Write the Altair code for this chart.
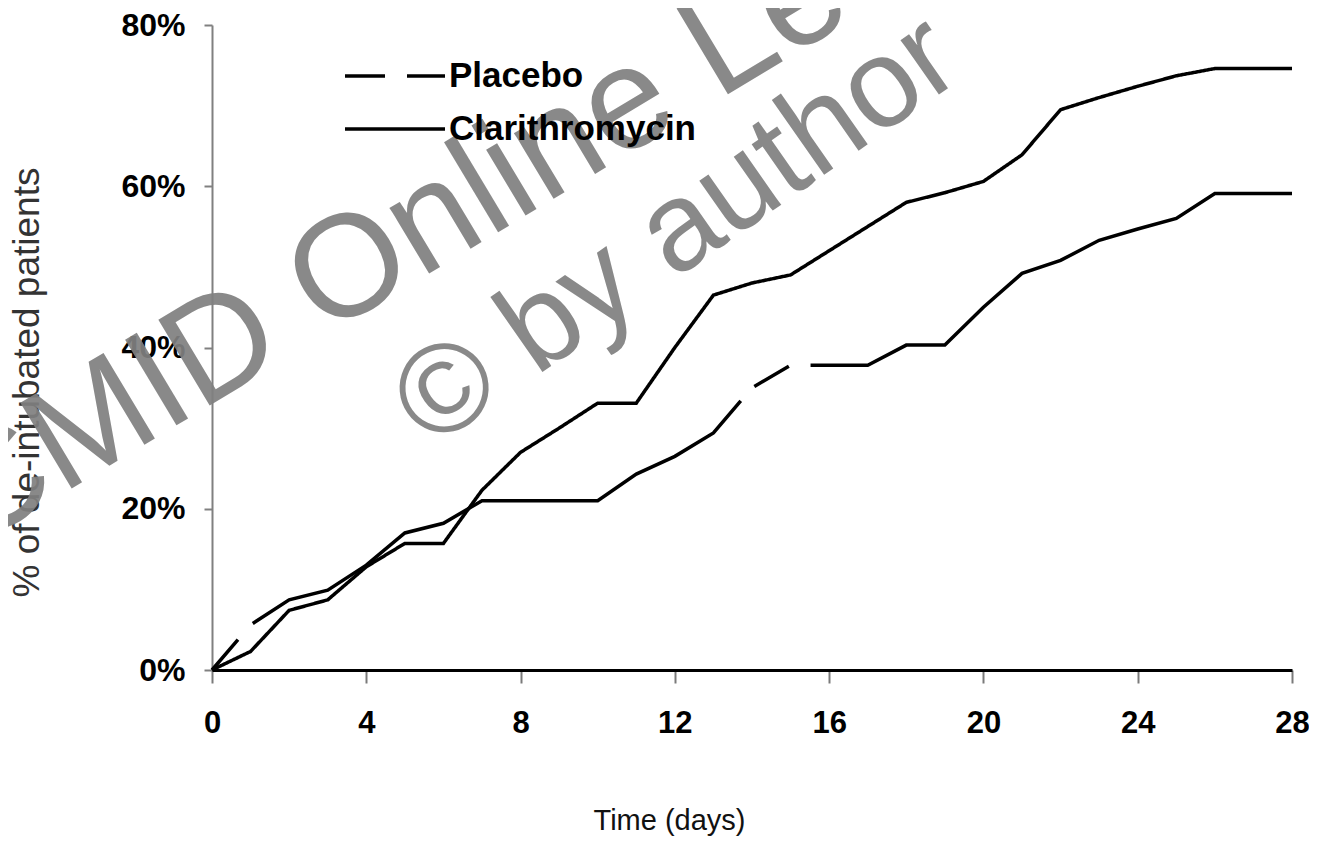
import altair as alt
import pandas as pd

# ---- data ----
series_names = ["Placebo", "Clarithromycin"]

placebo_days = [0, 1, 2, 3, 4, 5, 6, 7, 10, 11, 12, 13, 14, 15, 17, 18, 19, 20, 21, 22, 23, 24, 25, 26, 28]
placebo_pct = [0, 5.6, 8.7, 9.9, 13.0, 17.0, 18.2, 21.0, 21.0, 24.3, 26.5, 29.4, 35.0, 37.8, 37.8, 40.3, 40.3,
               45.0, 49.2, 50.8, 53.3, 54.7, 56.0, 59.1, 59.1]

clari_days = [0, 1, 2, 3, 4, 5, 6, 7, 8, 9, 10, 11, 12, 13, 14, 15, 16, 17, 18, 19, 20, 21, 22, 23, 24, 25, 26, 28]
clari_pct = [0, 2.3, 7.4, 8.7, 12.8, 15.7, 15.7, 22.3, 27.0, 30.0, 33.1, 33.1, 40.0, 46.5, 48.0, 49.0, 52.0,
             55.0, 58.0, 59.2, 60.6, 63.9, 69.5, 71.0, 72.4, 73.7, 74.6, 74.6]

x_ticks = [0, 4, 8, 12, 16, 20, 24, 28]
y_ticks = [0, 20, 40, 60, 80]

watermark_line1 = ["ESCMID Online Lecture Library"]
watermark_line2 = ["\u00a9 by author"]

rows = []
for d, v in zip(placebo_days, placebo_pct):
    rows.append({"day": d, "pct": v, "series": series_names[0]})
for d, v in zip(clari_days, clari_pct):
    rows.append({"day": d, "pct": v, "series": series_names[1]})
df = pd.DataFrame(rows)

FONT = "Liberation Sans, Arial, Helvetica, sans-serif"

x_enc = alt.X(
    "day:Q",
    scale=alt.Scale(domain=[0, 28], nice=False, zero=False),
    axis=alt.Axis(
        values=x_ticks,
        title="Time (days)",
        grid=False,
        domainColor="black",
        domainWidth=3,
        tickColor="#7a7a7a",
        tickWidth=2,
        tickSize=13,
        labelFont=FONT,
        labelFontSize=31,
        labelFontWeight="bold",
        labelColor="black",
        labelPadding=25,
        labelFlush=False,
        titleFont=FONT,
        titleFontSize=29,
        titleFontWeight="normal",
        titleColor="#111111",
        titleX=457,
        titleY=159,
        titleAlign="center",
        titleBaseline="alphabetic",
    ),
)

y_enc = alt.Y(
    "pct:Q",
    scale=alt.Scale(domain=[0, 80], nice=False),
    axis=alt.Axis(
        values=y_ticks,
        labelExpr="datum.value + '%'",
        title="% of de-intubated patients",
        grid=False,
        domainColor="#808080",
        domainWidth=2,
        tickColor="#808080",
        tickWidth=2,
        tickSize=8,
        labelFont=FONT,
        labelFontSize=32,
        labelFontWeight="bold",
        labelColor="black",
        labelPadding=19,
        labelFlush=False,
        titleFont=FONT,
        titleFontSize=37,
        titleFontWeight="normal",
        titleColor="#333333",
        titleAngle=270,
        titleX=-174,
        titleY=357,
        titleAlign="center",
        titleBaseline="alphabetic",
    ),
)


def legend_for(y_pos):
    return alt.Legend(
        title=None,
        orient="none",
        legendX=131,
        legendY=y_pos,
        symbolType="stroke",
        symbolSize=10000,
        symbolStrokeWidth=3.5,
        symbolStrokeColor="black",
        labelFont=FONT,
        labelFontSize=35,
        labelFontWeight="bold",
        labelColor="black",
        labelOffset=2,
        labelLimit=500,
        padding=0,
    )


dash_patterns = [[40, 22, 556, 20], [1, 0]]
legend_rows_y = [-1, 52]

series_layers = []
for name, dash, ly in zip(series_names, dash_patterns, legend_rows_y):
    series_layers.append(
        alt.Chart(df)
        .transform_filter(alt.datum.series == name)
        .mark_line(color="black", strokeWidth=3.5, strokeCap="butt")
        .encode(
            x=x_enc,
            y=y_enc,
            strokeDash=alt.StrokeDash(
                "series:N",
                scale=alt.Scale(domain=[name], range=[dash]),
                legend=legend_for(ly),
            ),
        )
    )

wm1 = alt.Chart(pd.DataFrame({"t": watermark_line1})).mark_text(
    font=FONT, fontSize=145, angle=329, align="left", baseline="alphabetic",
    color="#808080", opacity=0.92,
).encode(text="t:N", x=alt.value(-406), y=alt.value(623))

wm2 = alt.Chart(pd.DataFrame({"t": watermark_line2})).mark_text(
    font=FONT, fontSize=126, angle=325, align="left", baseline="alphabetic",
    color="#808080", opacity=0.92,
).encode(text="t:N", x=alt.value(219), y=alt.value(425))

chart = (
    alt.layer(*series_layers, wm1, wm2)
    .resolve_scale(strokeDash="independent")
    .resolve_legend(strokeDash="independent")
    .properties(
        width=1080,
        height=645,
        autosize=alt.AutoSizeParams(type="none"),
        padding={"left": 204, "top": 17, "right": 17, "bottom": 166},
        background="white",
    )
    .configure_view(stroke=None)
)

chart.save("out.html", embed_options={"renderer": "svg", "actions": False})
